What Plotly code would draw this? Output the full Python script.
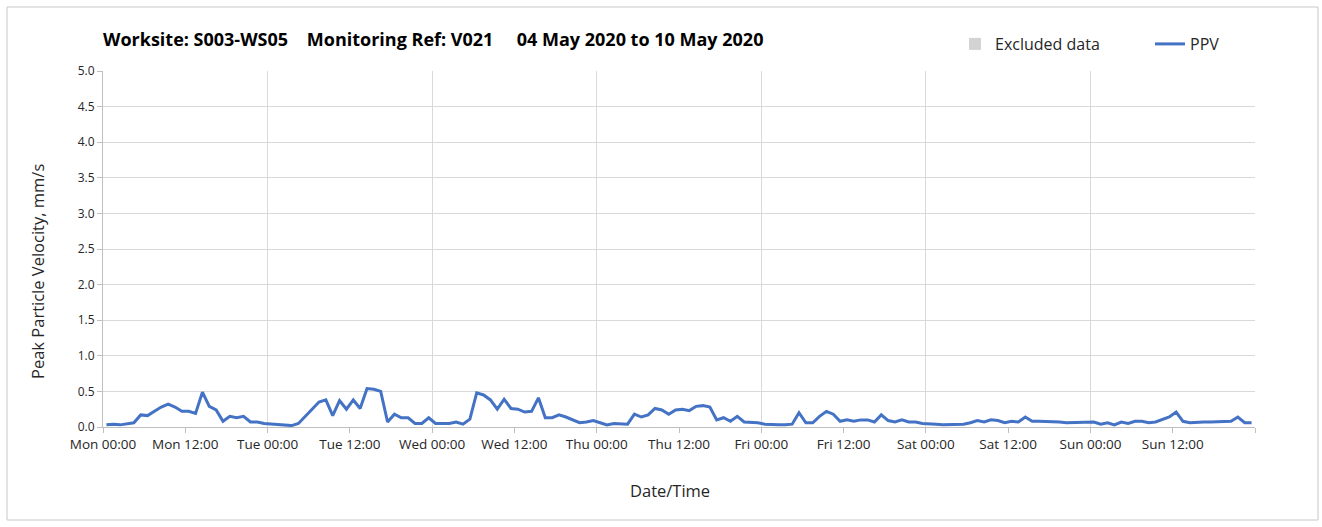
import pandas as pd
import plotly.graph_objects as go

# ---- data (hourly PPV readings, mm/s) ----
start_time = "2020-05-04 00:30"
mon = [0.03, 0.04, 0.03, 0.04, 0.06, 0.17, 0.16, 0.22, 0.28, 0.32, 0.28, 0.22,
       0.22, 0.19, 0.49, 0.29, 0.24, 0.08, 0.15, 0.13, 0.15, 0.07, 0.07, 0.05]
tue = [0.04, 0.04, 0.03, 0.02, 0.05, 0.15, 0.25, 0.35, 0.38, 0.16, 0.37, 0.25,
       0.38, 0.26, 0.54, 0.53, 0.50, 0.07, 0.18, 0.13, 0.13, 0.05, 0.05, 0.13]
wed = [0.05, 0.05, 0.05, 0.07, 0.04, 0.11, 0.48, 0.45, 0.38, 0.25, 0.39, 0.26,
       0.25, 0.21, 0.22, 0.41, 0.13, 0.13, 0.17, 0.14, 0.10, 0.06, 0.07, 0.09]
thu = [0.06, 0.03, 0.05, 0.04, 0.04, 0.18, 0.14, 0.17, 0.26, 0.24, 0.18, 0.24,
       0.25, 0.23, 0.29, 0.30, 0.28, 0.10, 0.13, 0.08, 0.15, 0.07, 0.07, 0.06]
fri = [0.04, 0.03, 0.03, 0.03, 0.04, 0.20, 0.06, 0.06, 0.15, 0.22, 0.18, 0.08,
       0.10, 0.08, 0.10, 0.10, 0.07, 0.17, 0.09, 0.07, 0.10, 0.07, 0.07, 0.05]
sat = [0.05, 0.04, 0.03, 0.03, 0.03, 0.04, 0.06, 0.09, 0.07, 0.10, 0.09, 0.06,
       0.08, 0.07, 0.14, 0.08, 0.08, 0.08, 0.07, 0.07, 0.06, 0.06, 0.06, 0.07]
sun = [0.07, 0.04, 0.06, 0.03, 0.07, 0.05, 0.08, 0.08, 0.06, 0.07, 0.10, 0.14,
       0.21, 0.08, 0.06, 0.07, 0.07, 0.07, 0.07, 0.07, 0.08, 0.14, 0.06, 0.06]
ppv = mon + tue + wed + thu + fri + sat + sun
times = pd.date_range(start_time, periods=len(ppv), freq="h")

axis_start = "2020-05-04 00:00"
axis_end = "2020-05-11 00:00"
tick_times = pd.date_range(axis_start, axis_end, freq="12h")
tick_labels = [t.strftime("%a %H:%M") for t in tick_times[:-1]] + [""]
day_lines = pd.date_range("2020-05-05", "2020-05-10", freq="D")

NB = "\u00a0"
title_text = ("Worksite: S003-WS05" + NB * 4 + "Monitoring Ref: V021"
              + NB * 5 + "04 May 2020 to 10 May 2020")

FONT = "'Open Sans', sans-serif"
GRID = "#d9d9d9"

fig = go.Figure()
fig.add_trace(go.Bar(x=[None], y=[None], name="Excluded data",
                     marker=dict(color="#d3d3d3", line=dict(width=0))))
fig.add_trace(go.Scatter(x=times, y=ppv, mode="lines", name="PPV",
                         line=dict(color="#4472C4", width=3)))
# invisible trace to anchor the day-gridline axis
fig.add_trace(go.Scatter(x=[axis_start], y=[None], xaxis="x2", showlegend=False,
                         hoverinfo="skip", mode="lines"))

fig.update_layout(
    width=1322, height=527,
    margin=dict(l=103, r=67, t=71, b=100, autoexpand=False),
    paper_bgcolor="white", plot_bgcolor="white",
    font=dict(family=FONT, color="#262626", size=12),
    title=dict(text="<b>" + title_text + "</b>", x=0.0, xref="paper", xanchor="left",
               y=1 - 40 / 527, yref="container", yanchor="middle",
               font=dict(size=18, color="#000000", family=FONT)),
    legend=dict(orientation="h", x=(1345 - 103) / 1152, xanchor="right",
                y=1 - 44 / 527, yref="container", yanchor="middle",
                font=dict(size=16, color="#262626"), entrywidth=150,
                itemwidth=30, bgcolor="rgba(0,0,0,0)"),
    showlegend=True,
    xaxis=dict(type="date", range=[axis_start, axis_end],
               tickvals=tick_times, ticktext=tick_labels,
               showgrid=False, showline=True, linecolor="#bfbfbf", linewidth=1,
               ticks="outside", ticklen=5, tickcolor="#bfbfbf",
               tickfont=dict(size=13.5), zeroline=False),
    xaxis2=dict(type="date", range=[axis_start, axis_end], overlaying="x",
                tickvals=day_lines, showticklabels=False, showgrid=True,
                gridcolor=GRID, gridwidth=1, showline=False, ticks="", zeroline=False),
    yaxis=dict(range=[0, 5], dtick=0.5, tickformat=".1f", showgrid=True, gridcolor=GRID,
               showline=True, linecolor="#bfbfbf", linewidth=1, ticks="outside",
               ticklen=5, tickcolor="#bfbfbf", tickfont=dict(size=12), zeroline=False),
    annotations=[
        dict(text="Peak Particle Velocity, mm/s", textangle=-90, xref="paper", yref="paper",
             x=(37 - 103) / 1152, y=(427 - 272) / 356, xanchor="center", yanchor="middle",
             showarrow=False, font=dict(size=16.5, color="#262626")),
        dict(text="Date/Time", xref="paper", yref="paper",
             x=(670 - 103) / 1152, y=(427 - 490) / 356, xanchor="center", yanchor="middle",
             showarrow=False, font=dict(size=16.5, color="#262626")),
    ],
    shapes=[dict(type="rect", xref="paper", yref="paper",
                 x0=(7 - 103) / 1152, x1=(1318 - 103) / 1152,
                 y0=(427 - 520) / 356, y1=(427 - 7) / 356,
                 line=dict(color="#c8c8c8", width=1), fillcolor="rgba(0,0,0,0)", layer="below")],
)

fig.write_html("out.html", config={"displayModeBar": False},
               post_script="document.body.style.margin='0';")
